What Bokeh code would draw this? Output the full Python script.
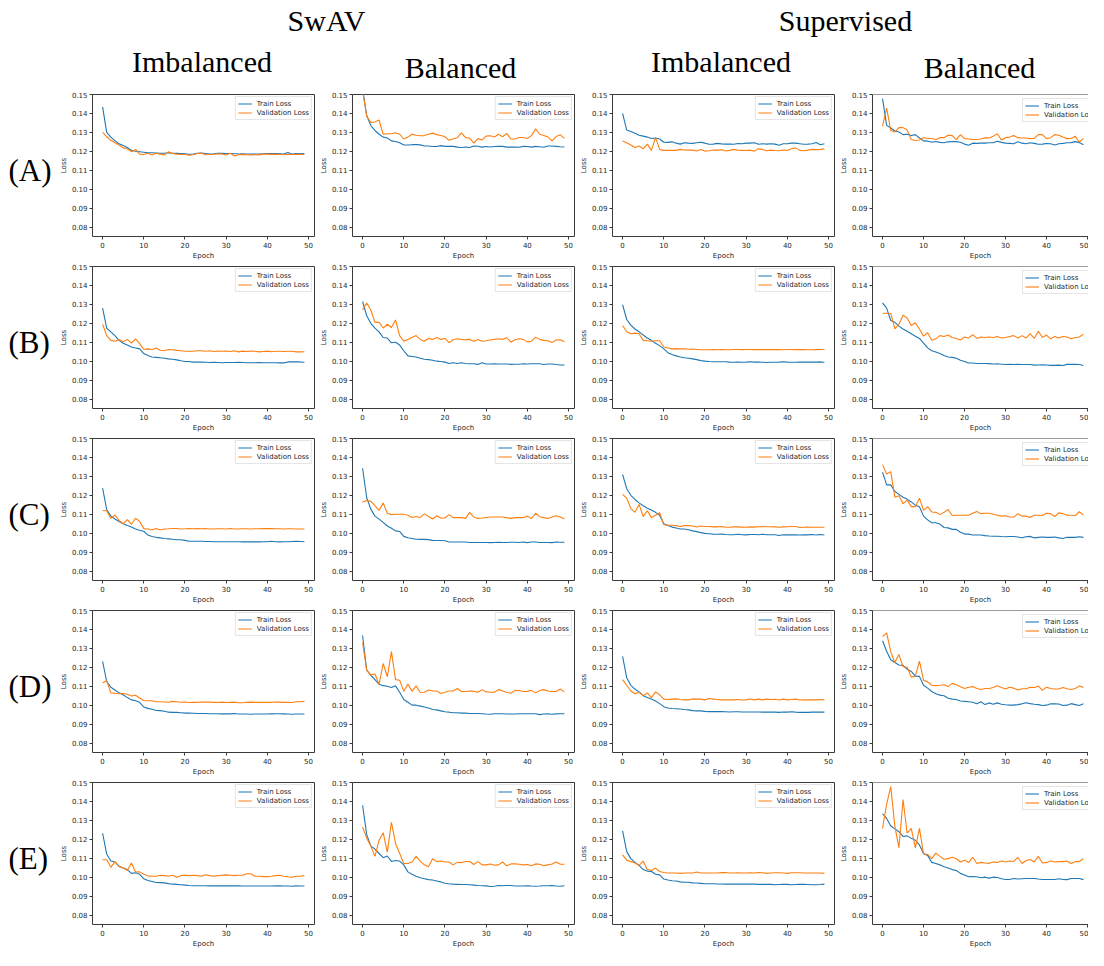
from bokeh.plotting import figure
from bokeh.layouts import row, column
from bokeh.models import Range1d, FixedTicker, PrintfTickFormatter, Legend, LegendItem, Span
from bokeh.embed import file_html
from bokeh.resources import INLINE
from bokeh.core.properties import value

# ---------------- data ----------------
epochs = list(range(50))
row_labels = ["(A)", "(B)", "(C)", "(D)", "(E)"]
method_titles = ["SwAV", "Supervised"]
balance_titles = ["Imbalanced", "Balanced", "Imbalanced", "Balanced"]
x_ticks = [0, 10, 20, 30, 40, 50]
y_ticks = [0.08, 0.09, 0.10, 0.11, 0.12, 0.13, 0.14, 0.15]
series_names = ["Train Loss", "Validation Loss"]

# Row A
A_swav_imb_train = [0.1435, 0.130, 0.1275, 0.1255, 0.124, 0.123, 0.122, 0.1205, 0.1200, 0.1198,
                    0.1195, 0.1192, 0.1192, 0.1191, 0.1190, 0.1190, 0.1192, 0.1190, 0.1189, 0.1188,
                    0.1187, 0.1184, 0.1186, 0.1190, 0.1191, 0.1188, 0.1186, 0.1187, 0.1189, 0.1189,
                    0.1188, 0.1188, 0.1187, 0.1186, 0.1187, 0.1186, 0.1186, 0.1185, 0.1186, 0.1187,
                    0.1188, 0.1188, 0.1188, 0.1187, 0.1186, 0.1194, 0.1185, 0.1188, 0.1187, 0.1188]
A_swav_imb_val = [0.130, 0.1277, 0.1258, 0.1245, 0.1233, 0.1218, 0.1213, 0.1198, 0.1210, 0.1185,
                  0.1183, 0.1190, 0.1180, 0.1190, 0.1185, 0.1180, 0.1197, 0.1188, 0.1185, 0.1184,
                  0.1183, 0.1180, 0.1182, 0.1188, 0.1190, 0.1182, 0.1183, 0.1184, 0.1187, 0.1186,
                  0.1180, 0.1190, 0.1175, 0.1182, 0.1184, 0.1182, 0.1181, 0.1182, 0.1181, 0.1185,
                  0.1185, 0.1184, 0.1184, 0.1183, 0.1182, 0.1184, 0.1183, 0.1184, 0.1183, 0.1183]
A_swav_bal_train = [0.153, 0.1389, 0.1336, 0.1310, 0.1290, 0.1275, 0.1270, 0.1255, 0.1252, 0.1245,
                    0.1233, 0.1233, 0.1235, 0.1235, 0.1234, 0.1228, 0.1228, 0.1225, 0.1225, 0.1230,
                    0.1226, 0.1227, 0.1226, 0.1222, 0.1220, 0.1223, 0.1220, 0.1228, 0.1227, 0.1222,
                    0.1225, 0.1223, 0.1225, 0.1227, 0.1226, 0.1222, 0.1222, 0.1223, 0.1221, 0.1226,
                    0.1225, 0.1222, 0.1226, 0.1224, 0.1221, 0.1228, 0.1228, 0.1226, 0.1224, 0.1223]
A_swav_bal_val = [0.152, 0.1385, 0.1353, 0.1355, 0.1365, 0.1290, 0.1293, 0.1293, 0.1298, 0.1290,
                  0.1265, 0.1275, 0.1290, 0.1285, 0.1282, 0.1283, 0.1290, 0.1296, 0.1288, 0.1283,
                  0.1277, 0.1258, 0.1265, 0.1272, 0.1297, 0.1272, 0.1270, 0.1243, 0.1267, 0.1260,
                  0.1280, 0.1282, 0.1275, 0.1290, 0.1277, 0.1295, 0.1265, 0.1265, 0.1273, 0.1273,
                  0.1268, 0.1283, 0.1318, 0.1290, 0.1283, 0.1275, 0.1255, 0.1278, 0.1287, 0.1268]
A_sup_imb_train = [0.1400, 0.1312, 0.1305, 0.1295, 0.1285, 0.1280, 0.1275, 0.1268, 0.1270, 0.1265,
                   0.1248, 0.1247, 0.1250, 0.1243, 0.1238, 0.1245, 0.1243, 0.1242, 0.1245, 0.1248,
                   0.1243, 0.1237, 0.1238, 0.1242, 0.1239, 0.1238, 0.1238, 0.1237, 0.1241, 0.1240,
                   0.1243, 0.1243, 0.1245, 0.1237, 0.1240, 0.1238, 0.1240, 0.1238, 0.1232, 0.1240,
                   0.1240, 0.1243, 0.1243, 0.1240, 0.1237, 0.1238, 0.1240, 0.1247, 0.1235, 0.1240]
A_sup_imb_val = [0.1255, 0.1245, 0.1233, 0.1220, 0.1228, 0.1213, 0.1238, 0.1205, 0.1272, 0.1210,
                 0.1205, 0.1205, 0.1205, 0.1205, 0.1210, 0.1207, 0.1206, 0.1206, 0.1202, 0.1210,
                 0.1201, 0.1203, 0.1207, 0.1206, 0.1208, 0.1202, 0.1205, 0.1210, 0.1206, 0.1205,
                 0.1204, 0.1206, 0.1201, 0.1213, 0.1210, 0.1203, 0.1206, 0.1204, 0.1203, 0.1207,
                 0.1204, 0.1213, 0.1218, 0.1205, 0.1203, 0.1206, 0.1210, 0.1209, 0.1210, 0.1213]
A_sup_bal_train = [0.1478, 0.1337, 0.1323, 0.1307, 0.1302, 0.1288, 0.1290, 0.1283, 0.1288, 0.1270,
                   0.1255, 0.1254, 0.1248, 0.1252, 0.1247, 0.1245, 0.1250, 0.1252, 0.1251, 0.1248,
                   0.1238, 0.1232, 0.1243, 0.1242, 0.1243, 0.1243, 0.1245, 0.1245, 0.1253, 0.1247,
                   0.1243, 0.1242, 0.1240, 0.1250, 0.1243, 0.1240, 0.1245, 0.1242, 0.1237, 0.1238,
                   0.1241, 0.1240, 0.1233, 0.1240, 0.1242, 0.1245, 0.1246, 0.1251, 0.1246, 0.1235]
A_sup_bal_val = [0.1333, 0.1428, 0.1310, 0.1302, 0.1325, 0.1325, 0.1312, 0.1262, 0.1257, 0.1260,
                 0.1272, 0.1268, 0.1268, 0.1262, 0.1272, 0.1272, 0.1285, 0.1283, 0.1262, 0.1288,
                 0.1267, 0.1265, 0.1262, 0.1262, 0.1265, 0.1272, 0.1270, 0.1280, 0.1293, 0.1260,
                 0.1272, 0.1275, 0.1283, 0.1272, 0.1270, 0.1270, 0.1267, 0.1268, 0.1288, 0.1288,
                 0.1267, 0.1272, 0.1288, 0.1285, 0.1275, 0.1267, 0.1268, 0.1280, 0.1248, 0.1268]

# Row B
B_swav_imb_train = [0.1280, 0.1175, 0.1155, 0.1135, 0.1110, 0.1095, 0.1085, 0.1075, 0.1070, 0.1065,
                    0.1040, 0.1030, 0.1022, 0.1020, 0.1018, 0.1015, 0.1012, 0.1010, 0.1007, 0.1002,
                    0.0998, 0.0998, 0.0995, 0.0995, 0.0995, 0.0994, 0.0993, 0.0994, 0.0993, 0.0992,
                    0.0993, 0.0993, 0.0993, 0.0994, 0.0993, 0.0992, 0.0992, 0.0992, 0.0993, 0.0992,
                    0.0992, 0.0992, 0.0992, 0.0991, 0.0991, 0.0996, 0.0996, 0.0996, 0.0996, 0.0994]
B_swav_imb_val = [0.1195, 0.1135, 0.1110, 0.1105, 0.1115, 0.1103, 0.1115, 0.1095, 0.1118, 0.1093,
                  0.1063, 0.1065, 0.1062, 0.1070, 0.1058, 0.1055, 0.1062, 0.1060, 0.1057, 0.1055,
                  0.1052, 0.1052, 0.1052, 0.1055, 0.1055, 0.1052, 0.1055, 0.1051, 0.1054, 0.1052,
                  0.1053, 0.1051, 0.1055, 0.1049, 0.1053, 0.1051, 0.1053, 0.1052, 0.1049, 0.1051,
                  0.1053, 0.1050, 0.1052, 0.1052, 0.1051, 0.1052, 0.1052, 0.1049, 0.1049, 0.1050]
B_swav_bal_train = [0.1315, 0.1240, 0.1200, 0.1175, 0.1155, 0.1125, 0.1122, 0.1097, 0.1100, 0.1085,
                    0.1055, 0.1028, 0.1025, 0.1022, 0.1015, 0.1010, 0.1008, 0.1005, 0.1000, 0.0998,
                    0.0995, 0.0988, 0.0992, 0.0988, 0.0992, 0.0988, 0.0986, 0.0986, 0.0983, 0.0992,
                    0.0985, 0.0985, 0.0986, 0.0985, 0.0985, 0.0985, 0.0983, 0.0984, 0.0984, 0.0986,
                    0.0985, 0.0986, 0.0986, 0.0986, 0.0982, 0.0985, 0.0985, 0.0982, 0.0980, 0.0980]
B_swav_bal_val = [0.1270, 0.1307, 0.1270, 0.1205, 0.1205, 0.1175, 0.1195, 0.1178, 0.1218, 0.1135,
                  0.1105, 0.1115, 0.1125, 0.1135, 0.1115, 0.1105, 0.1120, 0.1115, 0.1125, 0.1115,
                  0.1120, 0.1098, 0.1113, 0.1118, 0.1115, 0.1113, 0.1115, 0.1105, 0.1115, 0.1105,
                  0.1108, 0.1112, 0.1115, 0.1118, 0.1115, 0.1125, 0.1100, 0.1113, 0.1118, 0.1115,
                  0.1102, 0.1105, 0.1127, 0.1115, 0.1110, 0.1108, 0.1098, 0.1112, 0.1113, 0.1103]
B_sup_imb_train = [0.1298, 0.1220, 0.1190, 0.1170, 0.1155, 0.1138, 0.1122, 0.1110, 0.1095, 0.1082,
                   0.1065, 0.1045, 0.1035, 0.1028, 0.1022, 0.1018, 0.1015, 0.1012, 0.1008, 0.1003,
                   0.1000, 0.0998, 0.0997, 0.0997, 0.0997, 0.0997, 0.0995, 0.0994, 0.0995, 0.0994,
                   0.0995, 0.0997, 0.0995, 0.0995, 0.0994, 0.0993, 0.0994, 0.0994, 0.0995, 0.0997,
                   0.0995, 0.0994, 0.0994, 0.0995, 0.0995, 0.0995, 0.0995, 0.0995, 0.0996, 0.0994]
B_sup_imb_val = [0.1188, 0.1155, 0.1145, 0.1148, 0.1145, 0.1110, 0.1108, 0.1105, 0.1108, 0.1108,
                 0.1075, 0.1070, 0.1065, 0.1066, 0.1065, 0.1065, 0.1063, 0.1064, 0.1062, 0.1060,
                 0.1060, 0.1060, 0.1061, 0.1060, 0.1061, 0.1060, 0.1060, 0.1062, 0.1062, 0.1061,
                 0.1062, 0.1062, 0.1061, 0.1062, 0.1061, 0.1062, 0.1061, 0.1062, 0.1061, 0.1060,
                 0.1062, 0.1062, 0.1061, 0.1061, 0.1061, 0.1060, 0.1060, 0.1061, 0.1062, 0.1062]
B_sup_bal_train = [0.1308, 0.1280, 0.1215, 0.1205, 0.1185, 0.1170, 0.1158, 0.1145, 0.1132, 0.1120,
                   0.1095, 0.1070, 0.1055, 0.1048, 0.1040, 0.1030, 0.1022, 0.1020, 0.1015, 0.1005,
                   0.0998, 0.0990, 0.0990, 0.0988, 0.0988, 0.0988, 0.0987, 0.0985, 0.0986, 0.0984,
                   0.0982, 0.0983, 0.0982, 0.0983, 0.0982, 0.0982, 0.0982, 0.0979, 0.0980, 0.0981,
                   0.0980, 0.0978, 0.0978, 0.0979, 0.0977, 0.0983, 0.0983, 0.0984, 0.0982, 0.0977]
B_sup_bal_val = [0.1253, 0.1253, 0.1252, 0.1170, 0.1195, 0.1243, 0.1228, 0.1188, 0.1203, 0.1170,
                 0.1132, 0.1150, 0.1110, 0.1118, 0.1135, 0.1130, 0.1138, 0.1125, 0.1120, 0.1112,
                 0.1128, 0.1122, 0.1140, 0.1120, 0.1128, 0.1125, 0.1128, 0.1125, 0.1130, 0.1122,
                 0.1125, 0.1130, 0.1135, 0.1122, 0.1135, 0.1122, 0.1145, 0.1120, 0.1158, 0.1125,
                 0.1138, 0.1118, 0.1130, 0.1122, 0.1130, 0.1128, 0.1118, 0.1125, 0.1128, 0.1143]

# Row C
C_swav_imb_train = [0.1238, 0.1125, 0.1090, 0.1075, 0.1062, 0.1050, 0.1040, 0.1033, 0.1022, 0.1015,
                    0.1010, 0.0990, 0.0982, 0.0978, 0.0975, 0.0972, 0.0970, 0.0968, 0.0965, 0.0965,
                    0.0962, 0.0957, 0.0957, 0.0957, 0.0957, 0.0956, 0.0956, 0.0955, 0.0955, 0.0955,
                    0.0955, 0.0955, 0.0955, 0.0955, 0.0954, 0.0954, 0.0954, 0.0954, 0.0954, 0.0955,
                    0.0955, 0.0957, 0.0955, 0.0954, 0.0955, 0.0955, 0.0956, 0.0957, 0.0956, 0.0955]
C_swav_imb_val = [0.1120, 0.1118, 0.1079, 0.1095, 0.1067, 0.1050, 0.1072, 0.1047, 0.1079, 0.1062,
                  0.1024, 0.1022, 0.1017, 0.1025, 0.1017, 0.1022, 0.1023, 0.1025, 0.1025, 0.1022,
                  0.1023, 0.1025, 0.1023, 0.1025, 0.1023, 0.1025, 0.1022, 0.1022, 0.1023, 0.1023,
                  0.1022, 0.1025, 0.1022, 0.1022, 0.1023, 0.1023, 0.1022, 0.1023, 0.1023, 0.1024,
                  0.1024, 0.1024, 0.1023, 0.1023, 0.1022, 0.1023, 0.1023, 0.1022, 0.1022, 0.1022]
C_swav_bal_train = [0.1343, 0.1187, 0.1127, 0.1090, 0.1074, 0.1057, 0.1038, 0.1026, 0.1012, 0.1009,
                    0.0983, 0.0976, 0.0972, 0.0968, 0.0967, 0.0967, 0.0966, 0.0962, 0.0961, 0.0961,
                    0.0960, 0.0953, 0.0953, 0.0953, 0.0953, 0.0953, 0.0951, 0.0951, 0.0951, 0.0951,
                    0.0951, 0.0950, 0.0951, 0.0952, 0.0951, 0.0951, 0.0952, 0.0952, 0.0951, 0.0953,
                    0.0950, 0.0953, 0.0953, 0.0951, 0.0951, 0.0951, 0.0950, 0.0953, 0.0952, 0.0952]
C_swav_bal_val = [0.1163, 0.1172, 0.1168, 0.1145, 0.1120, 0.1160, 0.1105, 0.1098, 0.1100, 0.1100,
                  0.1100, 0.1095, 0.1083, 0.1088, 0.1083, 0.1102, 0.1088, 0.1075, 0.1092, 0.1080,
                  0.1080, 0.1098, 0.1082, 0.1082, 0.1082, 0.1078, 0.1110, 0.1085, 0.1078, 0.1080,
                  0.1083, 0.1085, 0.1085, 0.1085, 0.1085, 0.1082, 0.1078, 0.1082, 0.1082, 0.1082,
                  0.1090, 0.1077, 0.1105, 0.1087, 0.1082, 0.1078, 0.1085, 0.1092, 0.1085, 0.1075]
C_sup_imb_train = [0.1310, 0.1235, 0.1200, 0.1178, 0.1160, 0.1145, 0.1132, 0.1122, 0.1110, 0.1095,
                   0.1050, 0.1040, 0.1032, 0.1027, 0.1022, 0.1022, 0.1018, 0.1012, 0.1008, 0.1003,
                   0.0999, 0.0997, 0.0995, 0.0994, 0.0995, 0.0993, 0.0992, 0.0992, 0.0994, 0.0992,
                   0.0991, 0.0993, 0.0993, 0.0992, 0.0994, 0.0992, 0.0992, 0.0992, 0.0988, 0.0992,
                   0.0991, 0.0991, 0.0991, 0.0990, 0.0991, 0.0991, 0.0993, 0.0990, 0.0993, 0.0990]
C_sup_imb_val = [0.1205, 0.1185, 0.1130, 0.1110, 0.1152, 0.1088, 0.1118, 0.1082, 0.1095, 0.1108,
                 0.1045, 0.1042, 0.1042, 0.1040, 0.1035, 0.1040, 0.1040, 0.1038, 0.1033, 0.1038,
                 0.1035, 0.1035, 0.1033, 0.1033, 0.1035, 0.1031, 0.1031, 0.1033, 0.1033, 0.1032,
                 0.1031, 0.1033, 0.1032, 0.1034, 0.1035, 0.1034, 0.1034, 0.1033, 0.1031, 0.1033,
                 0.1034, 0.1035, 0.1035, 0.1030, 0.1031, 0.1032, 0.1031, 0.1031, 0.1031, 0.1031]
C_sup_bal_train = [0.1322, 0.1255, 0.1255, 0.1220, 0.1205, 0.1190, 0.1180, 0.1165, 0.1148, 0.1140,
                   0.1090, 0.1070, 0.1055, 0.1055, 0.1048, 0.1030, 0.1028, 0.1020, 0.1020, 0.1005,
                   0.0995, 0.0995, 0.0990, 0.0990, 0.0990, 0.0987, 0.0985, 0.0984, 0.0984, 0.0982,
                   0.0981, 0.0982, 0.0982, 0.0980, 0.0976, 0.0981, 0.0983, 0.0975, 0.0978, 0.0980,
                   0.0978, 0.0978, 0.0980, 0.0975, 0.0972, 0.0978, 0.0978, 0.0978, 0.0981, 0.0978]
C_sup_bal_val = [0.1362, 0.1312, 0.1325, 0.1190, 0.1198, 0.1155, 0.1175, 0.1140, 0.1140, 0.1185,
                 0.1120, 0.1140, 0.1112, 0.1110, 0.1098, 0.1110, 0.1125, 0.1093, 0.1095, 0.1095,
                 0.1095, 0.1095, 0.1105, 0.1115, 0.1103, 0.1105, 0.1105, 0.1100, 0.1095, 0.1090,
                 0.1092, 0.1085, 0.1085, 0.1103, 0.1090, 0.1090, 0.1083, 0.1095, 0.1095, 0.1093,
                 0.1105, 0.1103, 0.1088, 0.1107, 0.1103, 0.1095, 0.1095, 0.1093, 0.1113, 0.1095]

# Row D
D_swav_imb_train = [0.1231, 0.1125, 0.1095, 0.1080, 0.1065, 0.1055, 0.1040, 0.1028, 0.1023, 0.1015,
                    0.0990, 0.0983, 0.0978, 0.0972, 0.0971, 0.0968, 0.0963, 0.0962, 0.0962, 0.0960,
                    0.0958, 0.0958, 0.0957, 0.0956, 0.0956, 0.0956, 0.0955, 0.0955, 0.0955, 0.0954,
                    0.0954, 0.0954, 0.0956, 0.0953, 0.0953, 0.0953, 0.0952, 0.0953, 0.0953, 0.0953,
                    0.0953, 0.0954, 0.0955, 0.0955, 0.0954, 0.0953, 0.0952, 0.0953, 0.0953, 0.0953]
D_swav_imb_val = [0.1117, 0.1130, 0.1065, 0.1063, 0.1060, 0.1062, 0.1058, 0.1048, 0.1052, 0.1038,
                  0.1025, 0.1023, 0.1023, 0.1018, 0.1018, 0.1017, 0.1015, 0.1020, 0.1018, 0.1015,
                  0.1017, 0.1014, 0.1015, 0.1015, 0.1017, 0.1016, 0.1016, 0.1015, 0.1014, 0.1016,
                  0.1014, 0.1015, 0.1016, 0.1013, 0.1013, 0.1015, 0.1016, 0.1015, 0.1015, 0.1015,
                  0.1015, 0.1015, 0.1017, 0.1016, 0.1015, 0.1015, 0.1014, 0.1018, 0.1018, 0.1020]
D_swav_bal_train = [0.1368, 0.1185, 0.1158, 0.1135, 0.1110, 0.1103, 0.1100, 0.1093, 0.1102, 0.1068,
                    0.1030, 0.1015, 0.1000, 0.1000, 0.0995, 0.0990, 0.0985, 0.0977, 0.0975, 0.0970,
                    0.0965, 0.0963, 0.0960, 0.0960, 0.0958, 0.0958, 0.0956, 0.0956, 0.0956, 0.0955,
                    0.0953, 0.0952, 0.0955, 0.0955, 0.0955, 0.0953, 0.0953, 0.0953, 0.0955, 0.0955,
                    0.0955, 0.0955, 0.0955, 0.0950, 0.0953, 0.0955, 0.0952, 0.0954, 0.0955, 0.0955]
D_swav_bal_val = [0.1330, 0.1185, 0.1160, 0.1165, 0.1110, 0.1220, 0.1150, 0.1283, 0.1135, 0.1132,
                  0.1073, 0.1112, 0.1073, 0.1102, 0.1067, 0.1068, 0.1080, 0.1075, 0.1075, 0.1062,
                  0.1068, 0.1075, 0.1075, 0.1088, 0.1072, 0.1072, 0.1075, 0.1073, 0.1068, 0.1082,
                  0.1070, 0.1068, 0.1068, 0.1082, 0.1075, 0.1068, 0.1063, 0.1078, 0.1077, 0.1072,
                  0.1073, 0.1078, 0.1065, 0.1077, 0.1082, 0.1075, 0.1072, 0.1072, 0.1085, 0.1070]
D_sup_imb_train = [0.1258, 0.1145, 0.1105, 0.1085, 0.1070, 0.1050, 0.1040, 0.1032, 0.1022, 0.1008,
                   0.0992, 0.0985, 0.0982, 0.0981, 0.0980, 0.0977, 0.0975, 0.0971, 0.0970, 0.0970,
                   0.0967, 0.0966, 0.0966, 0.0966, 0.0966, 0.0965, 0.0964, 0.0965, 0.0965, 0.0964,
                   0.0964, 0.0964, 0.0964, 0.0964, 0.0963, 0.0963, 0.0963, 0.0963, 0.0962, 0.0964,
                   0.0963, 0.0965, 0.0963, 0.0962, 0.0962, 0.0962, 0.0963, 0.0963, 0.0964, 0.0963]
D_sup_imb_val = [0.1135, 0.1105, 0.1075, 0.1060, 0.1068, 0.1050, 0.1065, 0.1040, 0.1070, 0.1055,
                 0.1032, 0.1030, 0.1032, 0.1033, 0.1030, 0.1028, 0.1028, 0.1033, 0.1032, 0.1032,
                 0.1028, 0.1035, 0.1032, 0.1030, 0.1028, 0.1028, 0.1028, 0.1028, 0.1030, 0.1027,
                 0.1028, 0.1033, 0.1028, 0.1032, 0.1028, 0.1032, 0.1030, 0.1031, 0.1027, 0.1032,
                 0.1028, 0.1030, 0.1032, 0.1027, 0.1028, 0.1028, 0.1029, 0.1028, 0.1030, 0.1028]
D_sup_bal_train = [0.1340, 0.1285, 0.1240, 0.1225, 0.1212, 0.1210, 0.1190, 0.1178, 0.1153, 0.1152,
                   0.1105, 0.1090, 0.1072, 0.1060, 0.1053, 0.1050, 0.1037, 0.1032, 0.1030, 0.1022,
                   0.1020, 0.1018, 0.1015, 0.1008, 0.1018, 0.1003, 0.1012, 0.1005, 0.1012, 0.1005,
                   0.1002, 0.1000, 0.1000, 0.1003, 0.1007, 0.1013, 0.1008, 0.1005, 0.1003, 0.0998,
                   0.1000, 0.1007, 0.1007, 0.1006, 0.0998, 0.1000, 0.1008, 0.1003, 0.0998, 0.1007]
D_sup_bal_val = [0.1362, 0.1382, 0.1283, 0.1225, 0.1267, 0.1203, 0.1200, 0.1148, 0.1153, 0.1232,
                 0.1132, 0.1123, 0.1105, 0.1103, 0.1105, 0.1108, 0.1098, 0.1115, 0.1108, 0.1097,
                 0.1088, 0.1095, 0.1098, 0.1088, 0.1083, 0.1088, 0.1088, 0.1093, 0.1102, 0.1093,
                 0.1085, 0.1095, 0.1090, 0.1080, 0.1087, 0.1087, 0.1095, 0.1093, 0.1100, 0.1078,
                 0.1095, 0.1088, 0.1085, 0.1085, 0.1093, 0.1087, 0.1083, 0.1088, 0.1102, 0.1093]

# Row E
E_swav_imb_train = [0.1232, 0.1122, 0.1085, 0.1080, 0.1058, 0.1048, 0.1040, 0.1020, 0.1023, 0.1015,
                    0.0992, 0.0982, 0.0977, 0.0972, 0.0971, 0.0970, 0.0966, 0.0963, 0.0962, 0.0960,
                    0.0958, 0.0956, 0.0955, 0.0955, 0.0955, 0.0955, 0.0954, 0.0954, 0.0954, 0.0954,
                    0.0954, 0.0954, 0.0954, 0.0954, 0.0953, 0.0953, 0.0953, 0.0953, 0.0953, 0.0953,
                    0.0953, 0.0953, 0.0954, 0.0955, 0.0953, 0.0953, 0.0952, 0.0954, 0.0953, 0.0953]
E_swav_imb_val = [0.1092, 0.1092, 0.1052, 0.1082, 0.1055, 0.1050, 0.1035, 0.1075, 0.1027, 0.1028,
                  0.1015, 0.1007, 0.1005, 0.1005, 0.1010, 0.1008, 0.1005, 0.1010, 0.1000, 0.1008,
                  0.1010, 0.1008, 0.1010, 0.1008, 0.1005, 0.1013, 0.1008, 0.1005, 0.1008, 0.1010,
                  0.1012, 0.1010, 0.1008, 0.1010, 0.1010, 0.1018, 0.1018, 0.1005, 0.1005, 0.1003,
                  0.1003, 0.1005, 0.1008, 0.1010, 0.1005, 0.1002, 0.1000, 0.1005, 0.1005, 0.1008]
E_swav_bal_train = [0.1380, 0.1225, 0.1165, 0.1148, 0.1125, 0.1103, 0.1112, 0.1083, 0.1088, 0.1085,
                    0.1065, 0.1028, 0.1015, 0.1005, 0.0997, 0.0992, 0.0987, 0.0985, 0.0980, 0.0975,
                    0.0968, 0.0965, 0.0963, 0.0962, 0.0961, 0.0961, 0.0960, 0.0958, 0.0956, 0.0955,
                    0.0954, 0.0951, 0.0952, 0.0956, 0.0955, 0.0956, 0.0956, 0.0953, 0.0953, 0.0953,
                    0.0955, 0.0953, 0.0952, 0.0953, 0.0955, 0.0955, 0.0956, 0.0953, 0.0952, 0.0955]
E_swav_bal_val = [0.1265, 0.1205, 0.1165, 0.1110, 0.1195, 0.1235, 0.1132, 0.1290, 0.1178, 0.1125,
                  0.1072, 0.1072, 0.1080, 0.1110, 0.1085, 0.1065, 0.1055, 0.1097, 0.1082, 0.1085,
                  0.1080, 0.1080, 0.1065, 0.1078, 0.1077, 0.1083, 0.1083, 0.1067, 0.1082, 0.1065,
                  0.1065, 0.1070, 0.1063, 0.1065, 0.1080, 0.1060, 0.1070, 0.1070, 0.1068, 0.1065,
                  0.1067, 0.1060, 0.1070, 0.1068, 0.1060, 0.1065, 0.1070, 0.1080, 0.1068, 0.1068]
E_sup_imb_train = [0.1245, 0.1135, 0.1098, 0.1078, 0.1062, 0.1040, 0.1032, 0.1030, 0.1015, 0.1012,
                   0.0990, 0.0985, 0.0981, 0.0980, 0.0975, 0.0973, 0.0973, 0.0970, 0.0969, 0.0967,
                   0.0965, 0.0965, 0.0965, 0.0964, 0.0964, 0.0963, 0.0963, 0.0963, 0.0963, 0.0963,
                   0.0963, 0.0963, 0.0963, 0.0962, 0.0962, 0.0962, 0.0962, 0.0960, 0.0961, 0.0962,
                   0.0962, 0.0960, 0.0961, 0.0962, 0.0962, 0.0961, 0.0960, 0.0960, 0.0961, 0.0963]
E_sup_imb_val = [0.1118, 0.1090, 0.1082, 0.1075, 0.1062, 0.1085, 0.1040, 0.1035, 0.1048, 0.1030,
                 0.1025, 0.1022, 0.1022, 0.1022, 0.1020, 0.1022, 0.1022, 0.1022, 0.1027, 0.1022,
                 0.1022, 0.1022, 0.1022, 0.1022, 0.1024, 0.1025, 0.1022, 0.1022, 0.1023, 0.1022,
                 0.1022, 0.1023, 0.1022, 0.1024, 0.1023, 0.1020, 0.1022, 0.1023, 0.1023, 0.1022,
                 0.1020, 0.1023, 0.1023, 0.1023, 0.1022, 0.1022, 0.1022, 0.1022, 0.1022, 0.1020]
E_sup_bal_train = [0.1335, 0.1310, 0.1270, 0.1255, 0.1240, 0.1215, 0.1218, 0.1205, 0.1195, 0.1170,
                   0.1125, 0.1115, 0.1078, 0.1072, 0.1065, 0.1055, 0.1048, 0.1040, 0.1035, 0.1020,
                   0.1012, 0.1002, 0.1003, 0.1002, 0.0997, 0.1000, 0.0995, 0.1000, 0.0998, 0.0992,
                   0.0988, 0.0988, 0.0993, 0.0990, 0.0992, 0.0993, 0.0993, 0.0993, 0.0990, 0.0988,
                   0.0988, 0.0988, 0.0988, 0.0992, 0.0988, 0.0987, 0.0993, 0.0993, 0.0993, 0.0987]
E_sup_bal_val = [0.1258, 0.1385, 0.1478, 0.1268, 0.1155, 0.1410, 0.1232, 0.1258, 0.1155, 0.1258,
                 0.1123, 0.1120, 0.1098, 0.1127, 0.1110, 0.1095, 0.1098, 0.1105, 0.1097, 0.1080,
                 0.1090, 0.1078, 0.1105, 0.1072, 0.1078, 0.1075, 0.1073, 0.1080, 0.1078, 0.1085,
                 0.1080, 0.1085, 0.1083, 0.1105, 0.1072, 0.1088, 0.1093, 0.1080, 0.1110, 0.1075,
                 0.1078, 0.1085, 0.1080, 0.1082, 0.1082, 0.1085, 0.1072, 0.1082, 0.1083, 0.1097]

panel_data = [
    [(A_swav_imb_train, A_swav_imb_val), (A_swav_bal_train, A_swav_bal_val),
     (A_sup_imb_train, A_sup_imb_val), (A_sup_bal_train, A_sup_bal_val)],
    [(B_swav_imb_train, B_swav_imb_val), (B_swav_bal_train, B_swav_bal_val),
     (B_sup_imb_train, B_sup_imb_val), (B_sup_bal_train, B_sup_bal_val)],
    [(C_swav_imb_train, C_swav_imb_val), (C_swav_bal_train, C_swav_bal_val),
     (C_sup_imb_train, C_sup_imb_val), (C_sup_bal_train, C_sup_bal_val)],
    [(D_swav_imb_train, D_swav_imb_val), (D_swav_bal_train, D_swav_bal_val),
     (D_sup_imb_train, D_sup_imb_val), (D_sup_bal_train, D_sup_bal_val)],
    [(E_swav_imb_train, E_swav_imb_val), (E_swav_bal_train, E_swav_bal_val),
     (E_sup_imb_train, E_sup_imb_val), (E_sup_bal_train, E_sup_bal_val)],
]

# ---------------- layout / style ----------------
TOTAL_W = 1088
HEADER_H = 90
LABEL_W = 56
CELL_W = 260
LAST_W = TOTAL_W - LABEL_W - 3 * CELL_W   # 252
CELL_H = 172
B_LEFT, B_RIGHT, B_TOP, B_BOTTOM = 36, 2, 4, 22
FRAME_W = CELL_W - B_LEFT - B_RIGHT        # 222
FRAME_H = CELL_H - B_TOP - B_BOTTOM        # 146
X_START, X_END = -2.45, 51.45
TRAIN_COLOR = "#1f77b4"
VAL_COLOR = "#ff7f0e"
SPINE = "#3a3a3a"
TXT = "#262626"
SMALL = "7px"
SERIF = "Liberation Serif"


def make_panel(train, val, last):
    if last:
        bl, br = 35, 0
        w = LAST_W
        fw = w - bl - br
        x_end = X_START + fw * (X_END - X_START) / FRAME_W
    else:
        bl, br = B_LEFT, B_RIGHT
        w = CELL_W
        x_end = X_END
    p = figure(width=w, height=CELL_H, output_backend="svg", toolbar_location=None,
               x_range=Range1d(X_START, x_end), y_range=Range1d(0.075, 0.15),
               min_border_left=bl, min_border_right=br,
               min_border_top=B_TOP, min_border_bottom=B_BOTTOM)
    p.grid.visible = False
    p.background_fill_color = "white"
    p.border_fill_color = "white"
    r1 = p.line(epochs, train, color=TRAIN_COLOR, line_width=1.1)
    r2 = p.line(epochs, val, color=VAL_COLOR, line_width=1.1)
    p.xaxis.ticker = FixedTicker(ticks=x_ticks)
    p.yaxis.ticker = FixedTicker(ticks=y_ticks)
    p.yaxis.formatter = PrintfTickFormatter(format="%.2f")
    p.xaxis.axis_label = "Epoch"
    p.yaxis.axis_label = "Loss"
    for ax in (p.xaxis[0], p.yaxis[0]):
        ax.major_label_text_font_size = SMALL
        ax.major_label_text_font = "DejaVu Sans"
        ax.major_label_text_color = TXT
        ax.axis_label_text_font_size = SMALL
        ax.axis_label_text_font = "DejaVu Sans"
        ax.axis_label_text_font_style = "normal"
        ax.axis_label_text_color = TXT
        ax.major_tick_out = 3
        ax.major_tick_in = 0
        ax.minor_tick_out = 0
        ax.minor_tick_in = 0
        ax.major_tick_line_color = SPINE
        ax.major_label_standoff = 2
        ax.axis_label_standoff = 1
    legend_kw = dict(
        items=[LegendItem(label=series_names[0], renderers=[r1]),
               LegendItem(label=series_names[1], renderers=[r2])],
        label_text_font_size=SMALL, label_text_font="DejaVu Sans", label_text_color=TXT,
        label_height=9, glyph_height=9, glyph_width=14, label_standoff=5,
        padding=2, spacing=0,
        border_line_color="#cccccc", border_line_width=1,
        background_fill_color="white", background_fill_alpha=0.8,
    )
    if last:
        p.outline_line_color = None
        p.xaxis.axis_line_color = SPINE
        p.yaxis.axis_line_color = SPINE
        p.add_layout(Span(location=0.15, dimension="width", line_color=SPINE, line_width=1))
        leg = Legend(location=(150, FRAME_H - 3 - 22 - 7), margin=0, **legend_kw)
    else:
        p.outline_line_color = SPINE
        p.outline_line_width = 1
        p.xaxis.axis_line_color = None
        p.yaxis.axis_line_color = None
        leg = Legend(location="top_right", margin=2, **legend_kw)
    p.add_layout(leg)
    return p


# header (method and balance titles), placed by the vertical middle of each text
header = figure(width=TOTAL_W, height=HEADER_H, output_backend="svg", toolbar_location=None,
                x_range=Range1d(0, TOTAL_W), y_range=Range1d(HEADER_H, 0),
                x_axis_type=None, y_axis_type=None, min_border=0)
header.grid.visible = False
header.outline_line_color = None
header.text(x=[326, 845], y=[20, 20], text=method_titles,
            text_font=value(SERIF), text_font_size="30px", text_color="black",
            text_align="center", text_baseline="middle")
header.text(x=[201.5, 460, 720.5, 979], y=[61, 66.5, 61, 66.5], text=balance_titles,
            text_font=value(SERIF), text_font_size="30px", text_color="black",
            text_align="center", text_baseline="middle")

# row labels
labels = figure(width=LABEL_W, height=5 * CELL_H, output_backend="svg", toolbar_location=None,
                x_range=Range1d(0, LABEL_W), y_range=Range1d(5 * CELL_H, 0),
                x_axis_type=None, y_axis_type=None, min_border=0)
labels.grid.visible = False
labels.outline_line_color = None
labels.text(x=[8] * 5, y=[79.5 + CELL_H * i for i in range(5)], text=row_labels,
            text_font=value(SERIF), text_font_size="31px", text_color="black",
            text_align="left", text_baseline="middle")

cols = []
for c in range(4):
    cols.append(column([make_panel(panel_data[r][c][0], panel_data[r][c][1], c == 3)
                        for r in range(5)], spacing=0))

layout = column(header, row([labels] + cols, spacing=0), spacing=0)

open("out.html", "w").write(file_html(layout, INLINE))
